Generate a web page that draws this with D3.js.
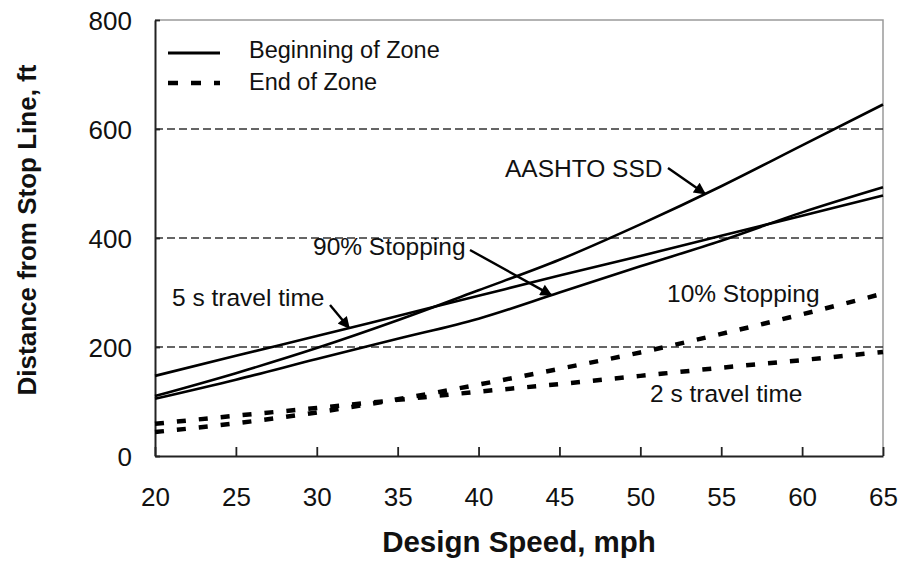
<!DOCTYPE html>
<html>
<head>
<meta charset="utf-8">
<script src="https://cdn.jsdelivr.net/npm/d3@7"></script>
<style>
  body { margin: 0; background: #fff; }
  text { font-family: "Liberation Sans", Arial, sans-serif; fill: #111; }
</style>
</head>
<body>
<div id="chart"></div>
<script>
// speeds (mph) at which the curves were read
const speeds = [20, 25, 30, 35, 40, 45, 50, 55, 60, 65];

// beginning of zone (solid)
const aashtoSsd = [110, 152, 198, 249, 304, 360, 425, 495, 570, 645];
const travel5s = [147, 184, 220, 257, 294, 331, 367, 404, 441, 478];
const stop90 = [105, 140, 178, 215, 252, 300, 348, 395, 447, 493];

// end of zone (dashed)
const stop10 = [44, 60, 80, 104, 131, 160, 190, 224, 260, 298];
const travel2s = [59, 74, 88, 103, 118, 132, 147, 162, 176, 191];

const xTicks = [20, 25, 30, 35, 40, 45, 50, 55, 60, 65];
const yTicks = [0, 200, 400, 600, 800];
const gridValues = [200, 400, 600];

const width = 901;
const height = 567;
const margin = {top: 20, right: 18, bottom: 111, left: 155};
const innerW = width - margin.left - margin.right;
const innerH = height - margin.top - margin.bottom;

const svg = d3.select('#chart').append('svg')
    .attr('width', width)
    .attr('height', height);

const defs = svg.append('defs');
defs.append('marker')
    .attr('id', 'arrow')
    .attr('viewBox', '0 0 10 10')
    .attr('refX', 9)
    .attr('refY', 5)
    .attr('markerWidth', 6)
    .attr('markerHeight', 5)
    .attr('markerUnits', 'strokeWidth')
    .attr('orient', 'auto')
    .append('path')
    .attr('d', 'M0,0 L10,5 L0,10 Z')
    .attr('fill', '#000');

const g = svg.append('g')
    .attr('transform', `translate(${margin.left},${margin.top})`);

const x = d3.scaleLinear().domain([20, 65]).range([0, innerW]);
const y = d3.scaleLinear().domain([0, 800]).range([innerH, 0]);

// top and right border of the plot box
g.append('path')
    .attr('d', `M0,0 H${innerW} V${innerH}`)
    .attr('fill', 'none')
    .attr('stroke', '#9a9a9a')
    .attr('stroke-width', 1.5);

// dashed grid lines
g.selectAll('.grid')
    .data(gridValues)
    .enter()
    .append('line')
    .attr('class', 'grid')
    .attr('x1', 0)
    .attr('x2', innerW)
    .attr('y1', d => y(d))
    .attr('y2', d => y(d))
    .attr('stroke', '#333')
    .attr('stroke-width', 1.4)
    .attr('stroke-dasharray', '8,4');

// axes
const xAxis = g.append('g')
    .attr('transform', `translate(0,${innerH})`)
    .call(d3.axisBottom(x).tickValues(xTicks).tickSizeInner(-9).tickSizeOuter(0).tickPadding(32));
const yAxis = g.append('g')
    .call(d3.axisLeft(y).tickValues(yTicks).tickSizeInner(-5).tickSizeOuter(0).tickPadding(23));

[xAxis, yAxis].forEach(ax => {
    ax.select('.domain').attr('stroke', '#222').attr('stroke-width', 2);
    ax.selectAll('.tick line').attr('stroke', '#222').attr('stroke-width', 1.8);
    ax.selectAll('.tick text')
        .attr('font-family', '"Liberation Sans", Arial, sans-serif')
        .attr('font-size', '26px')
        .attr('fill', '#222');
});
yAxis.selectAll('.tick text').attr('dy', '0.36em');
xAxis.selectAll('.tick text').attr('dy', '0.71em');

// curves
const line = d3.line()
    .x((d, i) => x(speeds[i]))
    .y(d => y(d))
    .curve(d3.curveMonotoneX);

const solidSeries = [aashtoSsd, travel5s, stop90];
const dashSeries = [stop10, travel2s];

g.selectAll('.solid')
    .data(solidSeries)
    .enter()
    .append('path')
    .attr('class', 'solid')
    .attr('d', line)
    .attr('fill', 'none')
    .attr('stroke', '#000')
    .attr('stroke-width', 2.6);

g.selectAll('.dash')
    .data(dashSeries)
    .enter()
    .append('path')
    .attr('class', 'dash')
    .attr('d', line)
    .attr('fill', 'none')
    .attr('stroke', '#000')
    .attr('stroke-width', 4.5)
    .attr('stroke-dasharray', '9,13');

// legend
const legend = svg.append('g');
legend.append('line')
    .attr('x1', 168).attr('x2', 220).attr('y1', 53).attr('y2', 53)
    .attr('stroke', '#000').attr('stroke-width', 3.2);
legend.append('line')
    .attr('x1', 168).attr('x2', 220).attr('y1', 83).attr('y2', 83)
    .attr('stroke', '#000').attr('stroke-width', 4.5)
    .attr('stroke-dasharray', '10,13');
legend.append('text').attr('x', 249).attr('y', 58)
    .attr('font-size', '23.5px').text('Beginning of Zone');
legend.append('text').attr('x', 249).attr('y', 90)
    .attr('font-size', '23.5px').text('End of Zone');

// annotations: label position and, for some, an arrow onto a curve
const notes = [
    {text: 'AASHTO SSD', tx: 505, ty: 168, arrow: [[668, 168], [54, aashtoSsd]]},
    {text: '90% Stopping', tx: 313, ty: 246, arrow: [[470, 250], [44.5, stop90]]},
    {text: '5 s travel time', tx: 172, ty: 297, arrow: [[330, 305], [32, travel5s]]},
    {text: '10% Stopping', tx: 667, ty: 293},
    {text: '2 s travel time', tx: 650, ty: 393}
];

const valueAt = (s, series) => d3.scaleLinear().domain(speeds).range(series)(s);

notes.forEach(n => {
    svg.append('text')
        .attr('x', n.tx)
        .attr('y', n.ty)
        .attr('dy', '0.35em')
        .attr('font-size', '24.5px')
        .text(n.text);
    if (n.arrow) {
        const from = n.arrow[0];
        const sp = n.arrow[1][0];
        const tx = margin.left + x(sp);
        const ty = margin.top + y(valueAt(sp, n.arrow[1][1]));
        svg.append('line')
            .attr('x1', from[0]).attr('y1', from[1])
            .attr('x2', tx).attr('y2', ty)
            .attr('stroke', '#000')
            .attr('stroke-width', 2.4)
            .attr('marker-end', 'url(#arrow)');
    }
});

// axis titles
svg.append('text')
    .attr('x', margin.left + innerW / 2)
    .attr('y', 552)
    .attr('text-anchor', 'middle')
    .attr('font-size', '29.5px')
    .attr('font-weight', 'bold')
    .text('Design Speed, mph');

svg.append('text')
    .attr('transform', `translate(36,${margin.top + 210}) rotate(-90)`)
    .attr('text-anchor', 'middle')
    .attr('font-size', '26px')
    .attr('font-weight', 'bold')
    .text('Distance from Stop Line, ft');
</script>
</body>
</html>
